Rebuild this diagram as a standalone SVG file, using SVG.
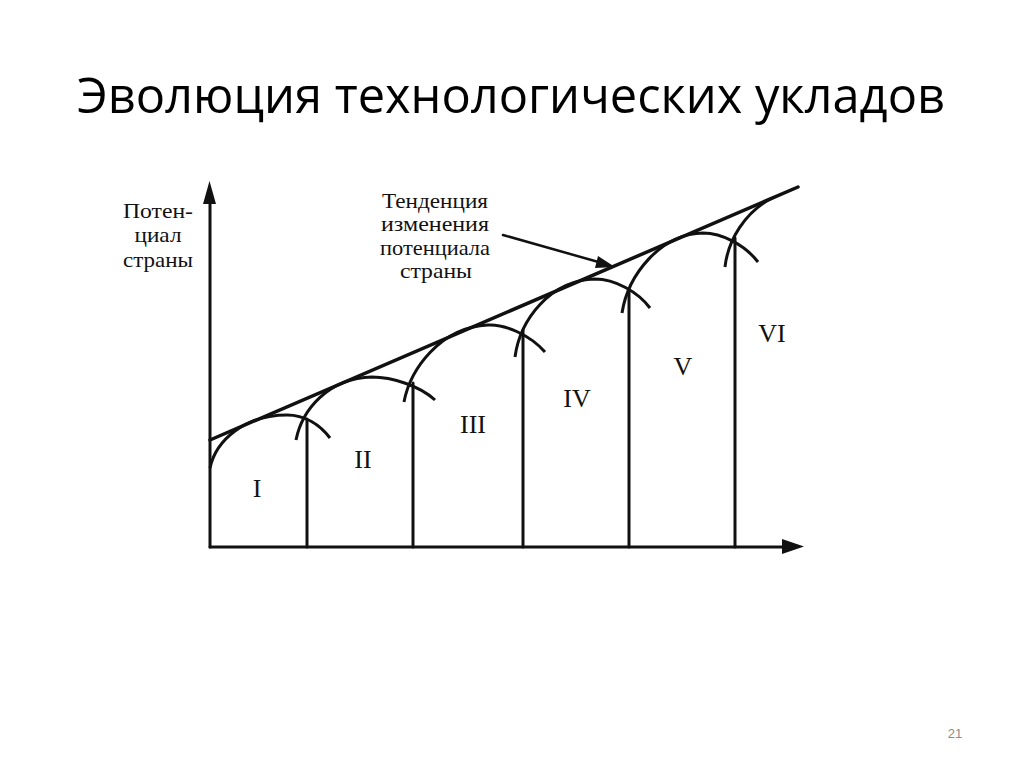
<svg xmlns="http://www.w3.org/2000/svg" width="1024" height="767" viewBox="0 0 1024 767">
<defs>
<style>
.ln{stroke:#111;stroke-width:3;fill:none;stroke-linecap:round}
.cv{stroke:#111;stroke-width:3;fill:none;stroke-linecap:butt}
.lbl{font-family:"Liberation Serif","DejaVu Serif",serif;font-size:21px;fill:#111;text-anchor:middle}
.rn{font-family:"Liberation Serif","DejaVu Serif",serif;font-size:26px;fill:#111;text-anchor:middle}
.title{font-family:"Open Sans","Liberation Sans",sans-serif;font-size:50px;fill:#000}
</style>
<marker id="ah" markerWidth="10" markerHeight="8" refX="9" refY="4" orient="auto" markerUnits="userSpaceOnUse" viewBox="0 0 10 8">
<path d="M0,0 L10,4 L0,8 Z" fill="#111"/>
</marker>
</defs>
<rect width="1024" height="767" fill="#fff"/>
<text class="title" x="77" y="113" textLength="868" lengthAdjust="spacingAndGlyphs">Эволюция технологических укладов</text>

<g id="axes">
<line class="ln" x1="210" y1="547" x2="210" y2="200"/>
<path d="M203,204 L209.5,181 L216,204 Z" fill="#111"/>
<line class="ln" x1="210" y1="547" x2="785" y2="547"/>
<path d="M782,539 L804,546.5 L782,554 Z" fill="#111"/>
</g>

<g id="connectors">
<line class="ln" x1="210" y1="440" x2="798" y2="187" style="stroke-width:3.5"/>
<line class="ln" x1="503" y1="235" x2="602" y2="263" style="stroke-width:2.5"/>
<path d="M598,256 L615,267 L595,268 Z" fill="#111"/>
</g>

<g id="dividers">
<line class="ln" x1="307" y1="419" x2="307" y2="547"/>
<line class="ln" x1="413" y1="383" x2="413" y2="547"/>
<line class="ln" x1="523" y1="330" x2="523" y2="547"/>
<line class="ln" x1="629" y1="292" x2="629" y2="547"/>
<line class="ln" x1="735" y1="238" x2="735" y2="547"/>
</g>

<g id="stage-I">
<path class="cv" d="M210,468 C216,440 245,415 287,415 C305,415 320,425 330,438"/>
<text class="rn" x="257" y="497">I</text>
</g>
<g id="stage-II">
<path class="cv" d="M296,440 C302,410 328,378 372,377 C392,377 420,386 435,400"/>
<text class="rn" x="363" y="468">II</text>
</g>
<g id="stage-III">
<path class="cv" d="M404,402 C410,370 440,327 488,325 C505,324 530,335 545,352"/>
<text class="rn" x="473" y="433">III</text>
</g>
<g id="stage-IV">
<path class="cv" d="M515,357 C520,320 550,280 595,279 C615,279 638,292 650,308"/>
<text class="rn" x="577" y="407">IV</text>
</g>
<g id="stage-V">
<path class="cv" d="M622,313 C628,275 660,234 703,233 C722,233 745,245 758,262"/>
<text class="rn" x="683" y="375">V</text>
</g>
<g id="stage-VI">
<path class="cv" d="M725,267 C728,240 745,212 772,198"/>
<text class="rn" x="772" y="342">VI</text>
</g>

<g id="y-label">
<text class="lbl" x="158" y="218" textLength="70" lengthAdjust="spacingAndGlyphs">Потен-</text>
<text class="lbl" x="158" y="242" textLength="47" lengthAdjust="spacingAndGlyphs">циал</text>
<text class="lbl" x="158" y="267" textLength="70" lengthAdjust="spacingAndGlyphs">страны</text>
</g>

<g id="trend-label">
<text class="lbl" x="435" y="208" textLength="106" lengthAdjust="spacingAndGlyphs">Тенденция</text>
<text class="lbl" x="435" y="231" textLength="108" lengthAdjust="spacingAndGlyphs">изменения</text>
<text class="lbl" x="435" y="255" textLength="110" lengthAdjust="spacingAndGlyphs">потенциала</text>
<text class="lbl" x="436" y="278" textLength="72" lengthAdjust="spacingAndGlyphs">страны</text>
</g>

<text x="955" y="738" font-family="Liberation Sans, Arial, sans-serif" font-size="13" fill="#8c8c8c" text-anchor="middle">21</text>
</svg>
